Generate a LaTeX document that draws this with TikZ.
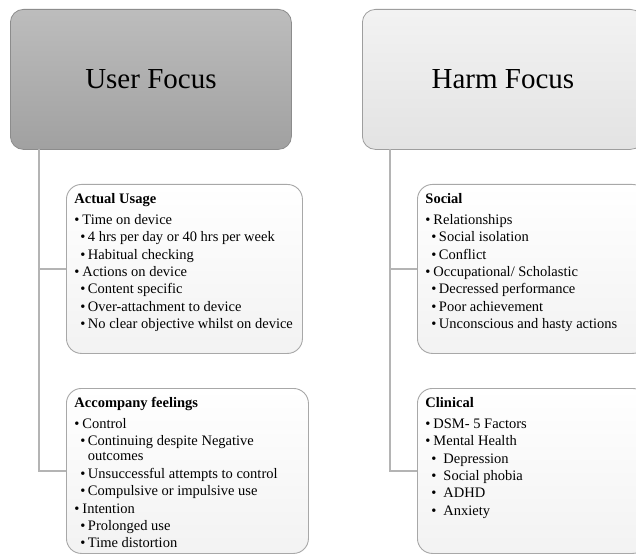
\documentclass[tikz,border=0pt]{standalone}
\usepackage{fontspec}
\setmainfont{Liberation Serif}
\usetikzlibrary{positioning}

\definecolor{linkgray}{HTML}{B4B4B4}
\definecolor{edgegray}{HTML}{A8A8A8}

% one line of a box: heading, bullet, sub bullet
\newcommand{\boxhead}[1]{\textbf{#1}\par\vspace{3.4bp}}
\newcommand{\bulA}[1]{\par\makebox[8bp][l]{\textbullet}#1}
\newcommand{\bulB}[1]{\par\hspace*{6bp}\makebox[7.5bp][l]{\textbullet}#1}
\newcommand{\bulC}[1]{\par\hspace*{6bp}\makebox[12bp][l]{\textbullet}#1}
\newcommand{\subtext}[3]{\parbox[c][#2][t]{#1}{\setlength{\parindent}{0pt}#3}}

\tikzset{
  head/.style={draw, rounded corners=13bp, line width=0.8bp, inner sep=0pt,
    minimum width=281bp, minimum height=140bp, anchor=north west,
    font=\fontsize{29bp}{34bp}\selectfont},
  sub/.style={draw=edgegray, rounded corners=15bp, line width=0.9bp,
    top color=white, bottom color=black!5, anchor=north west,
    inner xsep=8bp, inner ysep=9bp,
    font=\fontsize{14.5bp}{17.4bp}\selectfont},
  link/.style={draw=linkgray, line width=2bp}
}

\begin{document}
\begin{tikzpicture}[x=1bp, y=-1bp]
  \clip (0,0) rectangle (636,554);
  \fill[white] (0,0) rectangle (636,554);

  % the two headers
  \node[head, draw=black!45, top color=black!26, bottom color=black!37]
    (uhead) at (10,9) {User Focus};
  \node[head, draw=black!38, top color=black!5, bottom color=black!11]
    (hhead) at (362,9) {Harm Focus};

  \coordinate (utrunk) at (39,149);
  \coordinate (htrunk) at (390,149);

  % user side
  \node[sub] (usage) at (66,184) {\subtext{220bp}{151bp}{%
    \boxhead{Actual Usage}
    \bulA{Time on device}
    \bulB{4 hrs per day or 40 hrs per week}
    \bulB{Habitual checking}
    \bulA{Actions on device}
    \bulB{Content specific}
    \bulB{Over-attachment to device}
    \bulB{No clear objective whilst on device}}};
  \node[sub] (feel) at (66,388) {\subtext{226bp}{147bp}{%
    \boxhead{Accompany feelings}
    \bulA{Control}
    \bulB{Continuing despite Negative\\[-2.4bp]\hspace*{13.5bp}outcomes}
    \bulB{Unsuccessful attempts to control}
    \bulB{Compulsive or impulsive use}
    \bulA{Intention}
    \bulB{Prolonged use}
    \bulB{Time distortion}}};

  % harm side
  \node[sub] (social) at (417,184) {\subtext{214bp}{151bp}{%
    \boxhead{Social}
    \bulA{Relationships}
    \bulB{Social isolation}
    \bulB{Conflict}
    \bulA{Occupational/ Scholastic}
    \bulB{Decressed performance}
    \bulB{Poor achievement}
    \bulB{Unconscious and hasty actions}}};
  \node[sub] (clinical) at (417,388) {\subtext{214bp}{147bp}{%
    \boxhead{Clinical}
    \bulA{DSM- 5 Factors}
    \bulA{Mental Health}
    \bulC{Depression}
    \bulC{Social phobia}
    \bulC{ADHD}
    \bulC{Anxiety}}};

  \draw[link] (utrunk) |- (usage.west);
  \draw[link] (utrunk) |- (feel.west);
  \draw[link] (htrunk) |- (social.west);
  \draw[link] (htrunk) |- (clinical.west);
\end{tikzpicture}
\end{document}
